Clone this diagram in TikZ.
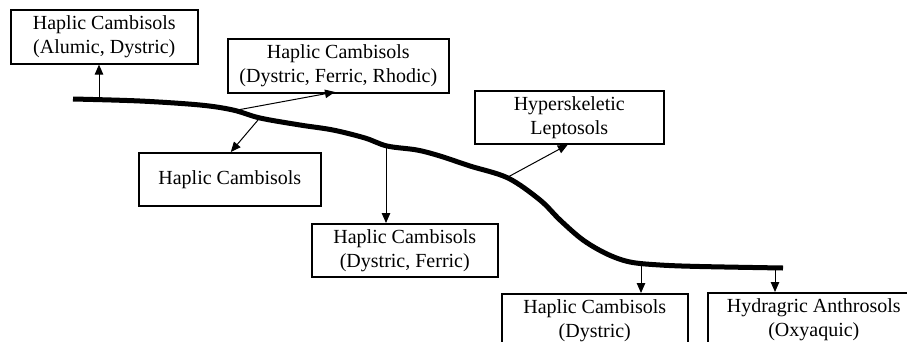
\documentclass[tikz,border=0pt]{standalone}
\usepackage{fontspec}
\setmainfont{Liberation Serif}
\usetikzlibrary{arrows.meta}
\begin{document}
\begin{tikzpicture}[x=1pt,y=-1pt,
  soilbox/.style={draw, line width=1.6pt, rectangle, anchor=north west, align=center,
    inner sep=0pt, font=\fontsize{20}{24}\selectfont},
  arr/.style={line width=1pt, -{Triangle[length=10pt,width=8.5pt]}},
  terrain/.style={line width=5pt, line cap=butt, line join=round}]
\useasboundingbox (0,0) rectangle (907,341);
\begin{scope}
\clip (0,0) rectangle (907,341);
\node[soilbox, minimum width=187pt, minimum height=54pt] (b1) at (10,9) {Haplic Cambisols\\(Alumic, Dystric)};
\node[soilbox, minimum width=221pt, minimum height=54pt] (b2) at (227,38) {Haplic Cambisols\\(Dystric, Ferric, Rhodic)};
\node[soilbox, minimum width=182pt, minimum height=53pt] (b3) at (138,152) {Haplic Cambisols};
\node[soilbox, minimum width=189pt, minimum height=53pt] (b4) at (474,90) {Hyperskeletic\\Leptosols};
\node[soilbox, minimum width=186pt, minimum height=53pt] (b5) at (311,223) {Haplic Cambisols\\(Dystric, Ferric)};
\node[soilbox, minimum width=186pt, minimum height=54pt] (b6) at (501,293) {Haplic Cambisols\\(Dystric)};
\node[soilbox, minimum width=212pt, minimum height=54pt] (b7) at (707,292) {Hydragric Anthrosols\\(Oxyaquic)};

\draw[terrain] plot[smooth, tension=0.55] coordinates {(73,99) (140,101) (200,105) (233,110) (260,118) (300,125) (333,130) (365,138) (387,146) (417,150) (440,156) (470,166) (508,178) (540,200) (560,220) (583,240) (607,254) (630,262) (660,265) (700,266.5) (783,268)};

\coordinate (p1) at (99,99);
\coordinate (p2) at (232,111);
\coordinate (p2b) at (335,92);
\coordinate (p3) at (258,120);
\coordinate (p4) at (386,146);
\coordinate (p5) at (508,177);
\coordinate (p6) at (641,265);
\coordinate (p7) at (775,267);

\draw[arr] (p1) -- (p1 |- b1.south);
\draw[arr] (p2) -- (p2b);
\draw[arr] (p3) -- ([xshift=1pt]b3.north);
\draw[arr] (p4) -- (p4 |- b5.north);
\draw[arr] (p5) -- ([xshift=-1.5pt]b4.south);
\draw[arr] (p6) -- (p6 |- b6.north);
\draw[arr] (p7) -- (p7 |- b7.north);
\end{scope}
\end{tikzpicture}
\end{document}
